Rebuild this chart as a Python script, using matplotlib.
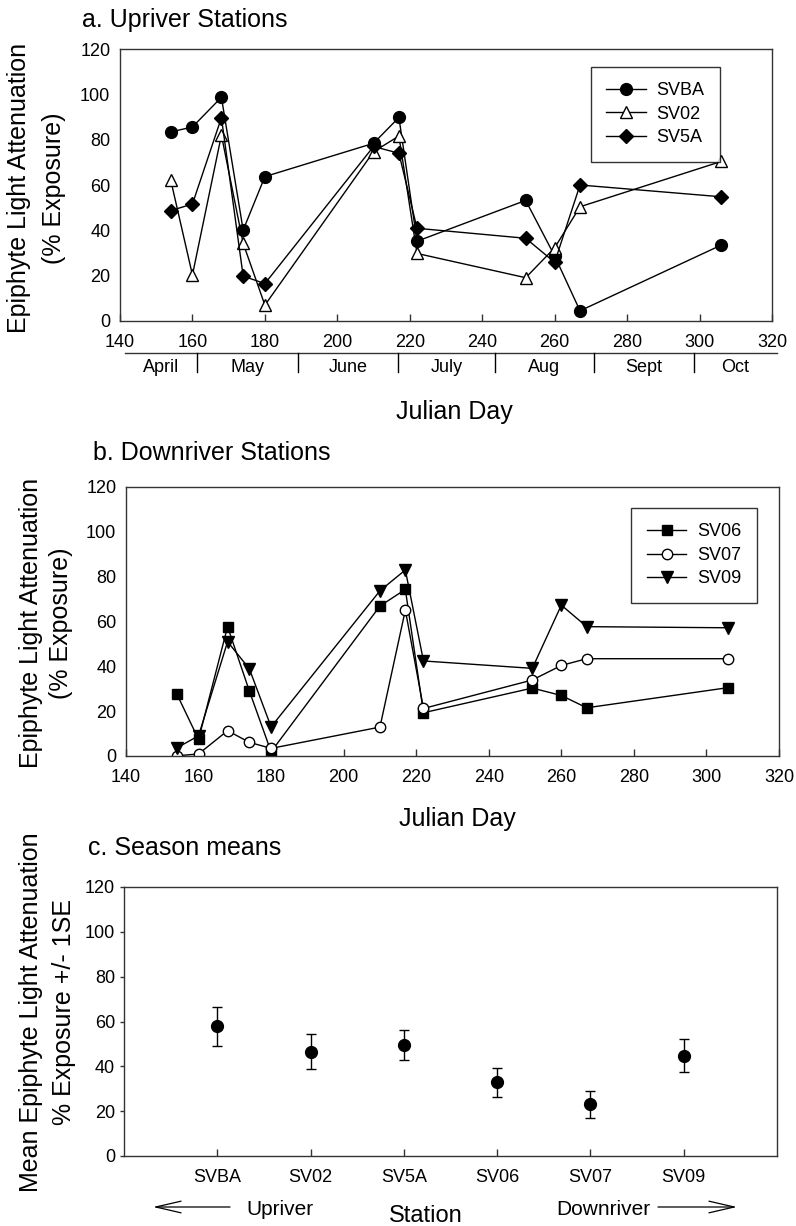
import matplotlib
matplotlib.use("Agg")
import matplotlib.pyplot as plt
import numpy as np

plt.rcParams['font.family'] = ['Liberation Sans', 'DejaVu Sans']

# ---------------- data ----------------
days = [154, 160, 168, 174, 180, 210, 217, 222, 252, 260, 267, 306]

svba = [83.4, 85.6, 98.7, 40.1, 63.7, 78.4, 89.8, 35.2, 53.2, 28.7, 4.5, 33.5]
sv02 = [62.2, 20.3, 82.0, 34.3, 7.0, 74.7, 81.6, 29.8, 19.1, 32.3, 50.4, 70.4]
sv5a = [48.7, 51.6, 89.7, 19.8, 16.5, 77.0, 74.0, 40.9, 36.5, 25.9, 60.0, 54.8]

sv06 = [27.7, 7.4, 57.7, 29.0, 1.9, 66.9, 74.3, 19.3, 30.3, 27.0, 21.5, 30.5]
sv07 = [0.1, 0.9, 11.3, 6.1, 3.4, 12.9, 65.1, 21.2, 33.9, 40.4, 43.4, 43.4]
sv09 = [3.6, 9.0, 51.0, 38.9, 13.0, 73.7, 83.0, 42.4, 39.1, 67.3, 57.7, 57.2]

stations = ["SVBA", "SV02", "SV5A", "SV06", "SV07", "SV09"]
station_means = [57.8, 46.6, 49.7, 32.8, 23.1, 44.8]
station_se = [8.6, 7.7, 6.7, 6.4, 6.1, 7.4]

month_names = ["April", "May", "June", "July", "Aug", "Sept", "Oct"]
month_bounds = [141.4, 161.3, 189.1, 216.8, 243.5, 270.9, 298.5, 321.4]

W, H = 796, 1226
fig = plt.figure(figsize=(W / 100, H / 100), dpi=100)


def axrect(l, t, r, b):
    return [l / W, 1 - b / H, (r - l) / W, (b - t) / H]


def fx(px):
    return px / W


def fy(py):
    return 1 - py / H


SPINE = '#333333'


def style_axes(ax, ytick_out=False):
    for s in ax.spines.values():
        s.set_color(SPINE)
        s.set_linewidth(1.0)
    ax.tick_params(axis='x', direction='in', length=5, width=1, color=SPINE,
                   labelsize=13, pad=9.5, top=False)
    if ytick_out:
        ax.tick_params(axis='y', direction='out', length=3, width=1, color=SPINE,
                       labelsize=13, pad=3.5, right=False)
    else:
        ax.tick_params(axis='y', length=0, labelsize=13, pad=7, right=False)


line_kw = dict(color='black', lw=1.0, markeredgecolor='black', markeredgewidth=1.0)
leg_kw = dict(loc='upper right', borderaxespad=0, fontsize=13, frameon=True,
              fancybox=False, edgecolor='black', handlelength=2.2,
              handletextpad=0.6, borderpad=0.85, labelspacing=0.36, numpoints=1)

# ---------------- panel a ----------------
axa = fig.add_axes(axrect(120, 49, 772, 321))
axa.plot(days, svba, marker='o', ms=8.5, mfc='black', label='SVBA', **line_kw)
axa.plot(days, sv02, marker='^', ms=8.5, mfc='white', label='SV02', **line_kw)
axa.plot(days, sv5a, marker='D', ms=7, mfc='black', label='SV5A', **line_kw)
axa.set_xlim(140, 320)
axa.set_ylim(0, 120)
axa.set_xticks(np.arange(140, 321, 20))
axa.set_yticks(np.arange(0, 121, 20))
style_axes(axa)
axa.legend(bbox_to_anchor=(0.920, 0.934), **leg_kw).get_frame().set_linewidth(1.0)

# month strip under panel a
ytr = axa.get_xaxis_transform()
y_line = (321 - 353) / 272
y_sep = (321 - 372) / 272
y_lab = (321 - 368) / 272
axa.plot([month_bounds[0], month_bounds[-1]], [y_line, y_line], transform=ytr,
         color=SPINE, lw=1.0, clip_on=False)
for b in month_bounds[1:-1]:
    axa.plot([b, b], [y_line, y_sep], transform=ytr, color='black', lw=1.0, clip_on=False)
for i, name in enumerate(month_names):
    mid = 0.5 * (month_bounds[i] + month_bounds[i + 1])
    axa.text(mid, y_lab, name, transform=ytr, ha='center', va='center', fontsize=13)

fig.text(fx(82), fy(27), "a. Upriver Stations", fontsize=18, va='baseline', ha='left')
fig.text(fx(454), fy(419), "Julian Day", fontsize=18, va='baseline', ha='center')
fig.text(fx(19), fy(188), "Epiphyte Light Attenuation", rotation=90, fontsize=18,
         ha='center', va='center')
fig.text(fx(54), fy(188), "(% Exposure)", rotation=90, fontsize=18,
         ha='center', va='center')

# ---------------- panel b ----------------
axb = fig.add_axes(axrect(126, 487, 779, 756))
axb.plot(days, sv06, marker='s', ms=7, mfc='black', label='SV06', **line_kw)
axb.plot(days, sv07, marker='o', ms=7.5, mfc='white', label='SV07', **line_kw)
axb.plot(days, sv09, marker='v', ms=8, mfc='black', label='SV09', **line_kw)
axb.set_xlim(140, 320)
axb.set_ylim(0, 120)
axb.set_xticks(np.arange(140, 321, 20))
axb.set_yticks(np.arange(0, 121, 20))
style_axes(axb)
axb.legend(bbox_to_anchor=(0.966, 0.922), **leg_kw).get_frame().set_linewidth(1.0)

fig.text(fx(93), fy(460), "b. Downriver Stations", fontsize=18, va='baseline', ha='left')
fig.text(fx(457), fy(826), "Julian Day", fontsize=18, va='baseline', ha='center')
fig.text(fx(31), fy(623), "Epiphyte Light Attenuation", rotation=90, fontsize=18,
         ha='center', va='center')
fig.text(fx(61), fy(623), "(% Exposure)", rotation=90, fontsize=18,
         ha='center', va='center')

# ---------------- panel c ----------------
axc = fig.add_axes(axrect(124, 887, 777, 1156))
xpos = np.arange(1, len(stations) + 1)
axc.errorbar(xpos, station_means, yerr=station_se, fmt='o', ms=8.5, color='black',
             mfc='black', mec='black', ecolor='black', elinewidth=1.0, capsize=3.3,
             capthick=1.0)
axc.set_xlim(0, 7)
axc.set_ylim(0, 120)
axc.set_xticks(xpos)
axc.set_xticklabels(stations)
axc.set_yticks(np.arange(0, 121, 20))
style_axes(axc, ytick_out=True)
axc.tick_params(axis='x', pad=9)

fig.text(fx(88), fy(855), "c. Season means", fontsize=18, va='baseline', ha='left')
fig.text(fx(31), fy(1012), "Mean Epiphyte Light Attenuation", rotation=90, fontsize=18,
         ha='center', va='center')
fig.text(fx(64), fy(1012), "% Exposure +/- 1SE", rotation=90, fontsize=18,
         ha='center', va='center')

fig.text(fx(280), fy(1215), "Upriver", fontsize=15, va='baseline', ha='center')
fig.text(fx(426), fy(1222), "Station", fontsize=17, va='baseline', ha='center')
fig.text(fx(603), fy(1215), "Downriver", fontsize=15, va='baseline', ha='center')

arrow_kw = dict(arrowstyle='->,head_length=1.3,head_width=0.3', color='black',
                lw=0.9, mutation_scale=14, shrinkA=0, shrinkB=0)
fig.add_artist(matplotlib.patches.FancyArrowPatch(
    (fx(230), fy(1207)), (fx(153), fy(1207)), transform=fig.transFigure, **arrow_kw))
fig.add_artist(matplotlib.patches.FancyArrowPatch(
    (fx(658), fy(1207)), (fx(737), fy(1207)), transform=fig.transFigure, **arrow_kw))

fig.savefig("out.png", dpi=100)
